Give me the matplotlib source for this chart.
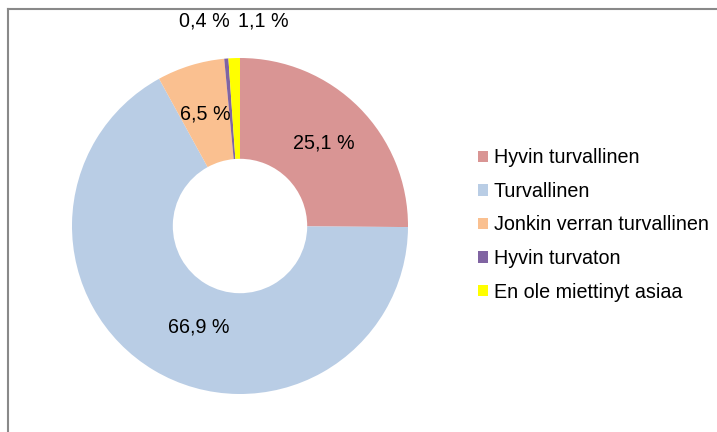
import numpy as np
import matplotlib.pyplot as plt
import matplotlib.lines as mlines

plt.rcParams['font.family'] = ['Liberation Sans', 'DejaVu Sans']

labels = ['Hyvin turvallinen', 'Turvallinen', 'Jonkin verran turvallinen',
          'Hyvin turvaton', 'En ole miettinyt asiaa']
values = [25.1, 66.9, 6.5, 0.4, 1.1]
colors = ['#D99594', '#B9CDE5', '#FAC090', '#8064A2', '#FFFF00']

W, H = 717, 432
fig = plt.figure(figsize=(W / 100, H / 100), dpi=100)

# grey frame (only top and left edges are visible in the crop)
fig.add_artist(mlines.Line2D([8 / W, 8 / W], [0, 1 - 9 / H], color='#898989', lw=1.5))
fig.add_artist(mlines.Line2D([8 / W, 1], [1 - 9 / H, 1 - 9 / H], color='#898989', lw=1.5))

cx, cy, r = 240, 226, 168
ax = fig.add_axes([(cx - r) / W, (H - cy - r) / H, 2 * r / W, 2 * r / H])

fmt = lambda p: ('%.1f %%' % p).replace('.', ',')
wedges = ax.pie(values, colors=colors, startangle=90, counterclock=False,
                wedgeprops=dict(width=0.6, linewidth=0))[0]

for i, w in enumerate(wedges):
    ang = np.deg2rad((w.theta1 + w.theta2) / 2)
    if values[i] >= 5:
        x, y = 0.7 * np.cos(ang), 0.7 * np.sin(ang)
        if i == 1:
            x += 0.11
    else:
        x, y = 0.0, 1.22
        x += -0.21 if i == 3 else 0.14
    ax.text(x, y, fmt(values[i]), ha='center', va='center', fontsize=14.2, color='black')

ax.set_xlim(-1, 1)
ax.set_ylim(-1, 1)
ax.set_aspect('equal')
ax.axis('off')

fig.legend(wedges, labels, loc='center left', bbox_to_anchor=(478 / W, 1 - 225 / H),
           frameon=False, fontsize=14.2, handlelength=0.5, handleheight=0.5,
           handletextpad=0.3, labelspacing=0.74, borderaxespad=0, borderpad=0)

fig.savefig('out.png', dpi=100)
